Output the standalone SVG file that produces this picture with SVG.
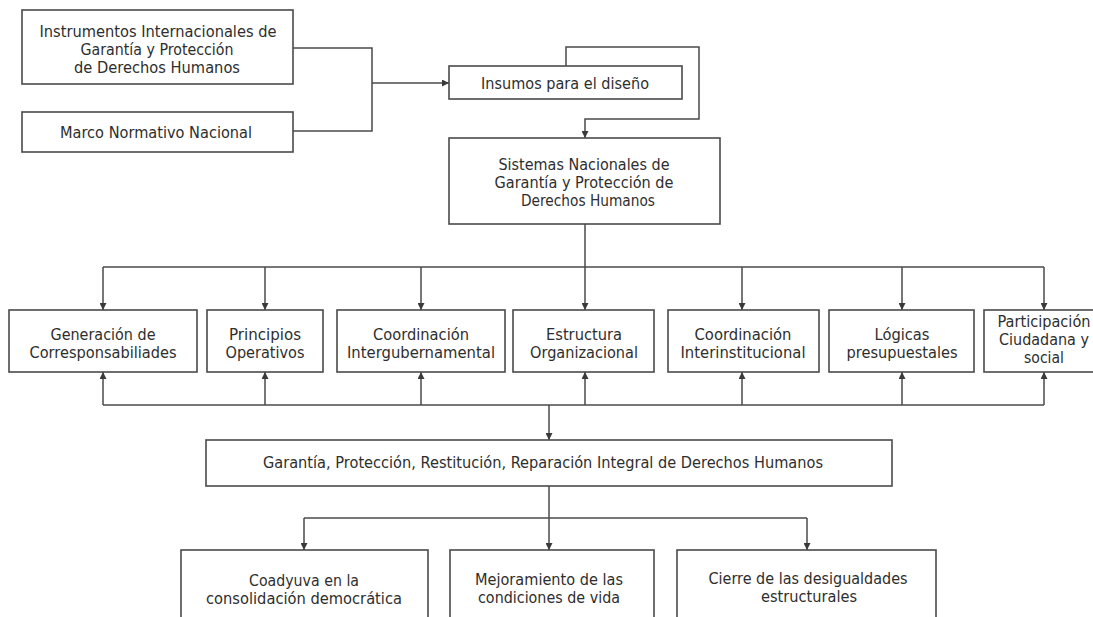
<svg xmlns="http://www.w3.org/2000/svg" width="1093" height="617" viewBox="0 0 1093 617">
<style>
.box{fill:#fff;stroke:#4a4a4a;stroke-width:1.6}
.t{font-family:"DejaVu Sans","Liberation Sans",sans-serif;font-size:15px;fill:#2e2e2e;text-anchor:middle}
.c{fill:none;stroke:#4a4a4a;stroke-width:1.5}
</style>
<defs>
<marker id="ah" viewBox="0 0 8 8" refX="8" refY="4" markerWidth="7" markerHeight="7" markerUnits="userSpaceOnUse" orient="auto">
<path d="M0,0 L8,4 L0,8 z" fill="#3a3a3a"/>
</marker>
</defs>
<rect width="1093" height="617" fill="#fff"/>
<g id="connectors">
<path class="c" d="M293,48 H372 V131 H293"/>
<path class="c" d="M372,83 H449" marker-end="url(#ah)"/>
<path class="c" d="M566,66 V47 H699 V119 H585 V138" marker-end="url(#ah)"/>
<path class="c" d="M585,224 V267"/>
<path class="c" d="M103,267 H1044"/>
<path class="c" d="M103,267 V310" marker-end="url(#ah)"/>
<path class="c" d="M265,267 V310" marker-end="url(#ah)"/>
<path class="c" d="M421,267 V310" marker-end="url(#ah)"/>
<path class="c" d="M585,267 V310" marker-end="url(#ah)"/>
<path class="c" d="M742,267 V310" marker-end="url(#ah)"/>
<path class="c" d="M902,267 V310" marker-end="url(#ah)"/>
<path class="c" d="M1044,267 V310" marker-end="url(#ah)"/>
<path class="c" d="M103,405 H1044"/>
<path class="c" d="M103,405 V372" marker-end="url(#ah)"/>
<path class="c" d="M265,405 V372" marker-end="url(#ah)"/>
<path class="c" d="M421,405 V372" marker-end="url(#ah)"/>
<path class="c" d="M585,405 V372" marker-end="url(#ah)"/>
<path class="c" d="M742,405 V372" marker-end="url(#ah)"/>
<path class="c" d="M902,405 V372" marker-end="url(#ah)"/>
<path class="c" d="M1044,405 V372" marker-end="url(#ah)"/>
<path class="c" d="M549,405 V440" marker-end="url(#ah)"/>
<path class="c" d="M549,486 V550" marker-end="url(#ah)"/>
<path class="c" d="M304,518 H807"/>
<path class="c" d="M304,518 V550" marker-end="url(#ah)"/>
<path class="c" d="M807,518 V550" marker-end="url(#ah)"/>
</g>
<g id="n-instrumentos">
<rect class="box" x="22" y="10" width="271" height="74"/>
<text class="t" x="158" y="37" textLength="237" lengthAdjust="spacingAndGlyphs">Instrumentos Internacionales de</text>
<text class="t" x="157" y="55" textLength="153" lengthAdjust="spacingAndGlyphs">Garantía y Protección</text>
<text class="t" x="157" y="73" textLength="166" lengthAdjust="spacingAndGlyphs">de Derechos Humanos</text>
</g>
<g id="n-marco">
<rect class="box" x="22" y="112" width="271" height="40"/>
<text class="t" x="156" y="138" textLength="192" lengthAdjust="spacingAndGlyphs">Marco Normativo Nacional</text>
</g>
<g id="n-insumos">
<rect class="box" x="449" y="66" width="233" height="33"/>
<text class="t" x="565" y="89" textLength="168" lengthAdjust="spacingAndGlyphs">Insumos para el diseño</text>
</g>
<g id="n-sistemas">
<rect class="box" x="449" y="138" width="271" height="86"/>
<text class="t" x="584" y="170" textLength="171" lengthAdjust="spacingAndGlyphs">Sistemas Nacionales de</text>
<text class="t" x="584" y="188" textLength="179" lengthAdjust="spacingAndGlyphs">Garantía y Protección de</text>
<text class="t" x="588" y="206" textLength="134" lengthAdjust="spacingAndGlyphs">Derechos Humanos</text>
</g>
<g id="n-generacion">
<rect class="box" x="9" y="310" width="188" height="62"/>
<text class="t" x="103" y="340" textLength="105" lengthAdjust="spacingAndGlyphs">Generación de</text>
<text class="t" x="103" y="358" textLength="147" lengthAdjust="spacingAndGlyphs">Corresponsabiliades</text>
</g>
<g id="n-principios">
<rect class="box" x="207" y="310" width="116" height="62"/>
<text class="t" x="265" y="340" textLength="72" lengthAdjust="spacingAndGlyphs">Principios</text>
<text class="t" x="265" y="358" textLength="79" lengthAdjust="spacingAndGlyphs">Operativos</text>
</g>
<g id="n-coord-inter">
<rect class="box" x="337" y="310" width="168" height="62"/>
<text class="t" x="421" y="340" textLength="96" lengthAdjust="spacingAndGlyphs">Coordinación</text>
<text class="t" x="421" y="358" textLength="148" lengthAdjust="spacingAndGlyphs">Intergubernamental</text>
</g>
<g id="n-estructura">
<rect class="box" x="513" y="310" width="141" height="62"/>
<text class="t" x="584" y="340" textLength="76" lengthAdjust="spacingAndGlyphs">Estructura</text>
<text class="t" x="584" y="358" textLength="108" lengthAdjust="spacingAndGlyphs">Organizacional</text>
</g>
<g id="n-coord-inst">
<rect class="box" x="668" y="310" width="151" height="62"/>
<text class="t" x="743" y="340" textLength="97" lengthAdjust="spacingAndGlyphs">Coordinación</text>
<text class="t" x="743" y="358" textLength="125" lengthAdjust="spacingAndGlyphs">Interinstitucional</text>
</g>
<g id="n-logicas">
<rect class="box" x="829" y="310" width="145" height="62"/>
<text class="t" x="902" y="340" textLength="55" lengthAdjust="spacingAndGlyphs">Lógicas</text>
<text class="t" x="902" y="358" textLength="111" lengthAdjust="spacingAndGlyphs">presupuestales</text>
</g>
<g id="n-participacion">
<rect class="box" x="984" y="310" width="120" height="62"/>
<text class="t" x="1044" y="327" textLength="93" lengthAdjust="spacingAndGlyphs">Participación</text>
<text class="t" x="1044" y="345" textLength="90" lengthAdjust="spacingAndGlyphs">Ciudadana y</text>
<text class="t" x="1044" y="363" textLength="40" lengthAdjust="spacingAndGlyphs">social</text>
</g>
<g id="n-garantia">
<rect class="box" x="206" y="440" width="686" height="46"/>
<text class="t" x="543" y="468" textLength="560" lengthAdjust="spacingAndGlyphs">Garantía, Protección, Restitución, Reparación Integral de Derechos Humanos</text>
</g>
<g id="n-coadyuva">
<rect class="box" x="181" y="550" width="247" height="80"/>
<text class="t" x="304" y="586" textLength="110" lengthAdjust="spacingAndGlyphs">Coadyuva en la</text>
<text class="t" x="304" y="604" textLength="196" lengthAdjust="spacingAndGlyphs">consolidación democrática</text>
</g>
<g id="n-mejoramiento">
<rect class="box" x="450" y="550" width="204" height="80"/>
<text class="t" x="549" y="585" textLength="148" lengthAdjust="spacingAndGlyphs">Mejoramiento de las</text>
<text class="t" x="549" y="603" textLength="142" lengthAdjust="spacingAndGlyphs">condiciones de vida</text>
</g>
<g id="n-cierre">
<rect class="box" x="677" y="550" width="259" height="80"/>
<text class="t" x="808" y="584" textLength="199" lengthAdjust="spacingAndGlyphs">Cierre de las desigualdades</text>
<text class="t" x="809" y="602" textLength="96" lengthAdjust="spacingAndGlyphs">estructurales</text>
</g>
</svg>
